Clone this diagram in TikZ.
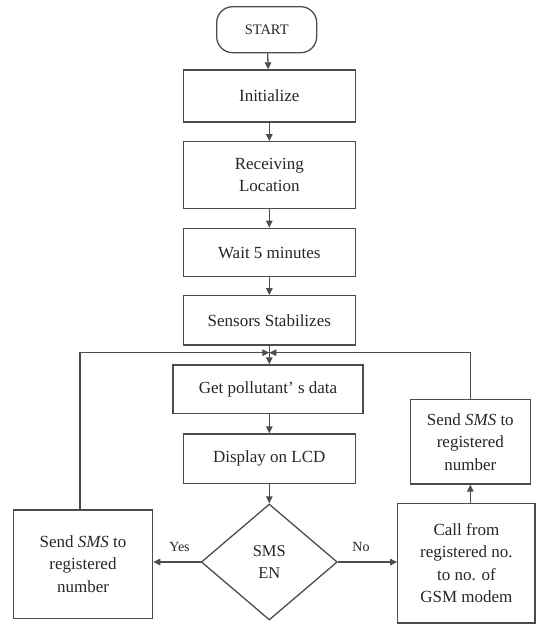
\documentclass[tikz,border=0pt]{standalone}
\usepackage{fontspec}
\setmainfont{Liberation Serif}
\usepackage{tikz}
\usetikzlibrary{positioning,arrows.meta,shapes.geometric}

\begin{document}
\begin{tikzpicture}[x=1pt, y=-1pt, line width=1.3pt, draw=black!70, text=black!85,
  >={Triangle[length=7pt,width=6.5pt]},
  box/.style={rectangle, draw, align=center, inner sep=0pt, font=\fontsize{17}{22.5}\selectfont},
  lbl/.style={font=\fontsize{14}{16}\selectfont}]

\useasboundingbox (0,0) rectangle (536,624);

% 
\node[box, rounded corners=16pt, minimum width=100pt, minimum height=46pt, font=\fontsize{14.5}{17}\selectfont] (start) at (266.7, 29.7) {START};
\node[box, minimum width=172pt, minimum height=52pt] (init) at (269.3, 96) {Initialize};
\node[box, minimum width=172pt, minimum height=66.6pt] (recv) at (269.3, 175) {Receiving\\Location};
\node[box, minimum width=172pt, minimum height=48.4pt] (wait) at (269.3, 252.5) {Wait 5 minutes};
\node[box, minimum width=172pt, minimum height=49.3pt] (sens) at (269.3, 320.4) {Sensors Stabilizes};
\node[box, minimum width=190pt, minimum height=48.5pt] (data) at (268, 389.2) {Get pollutant’ s data};
\node[box, minimum width=172pt, minimum height=49.3pt] (lcd) at (269.3, 458.7) {Display on LCD};
\node[box, diamond, minimum width=136pt, minimum height=116pt, font=\fontsize{16.5}{21.5}\selectfont] (smsen) at (269.3, 562) {SMS\\EN};

% 
\node[box, minimum width=139.4pt, minimum height=108.3pt] (smsyes) at (83, 564) {Send \textit{SMS} to\\registered\\number};
\node[box, minimum width=137.3pt, minimum height=119.7pt] (call) at (466.4, 563.2) {Call from\\registered no.\\to no. of\\GSM modem};
\node[box, minimum width=120pt, minimum height=84.7pt] (smsno) at (470.3, 441.7) {Send \textit{SMS} to\\registered\\number};

% 
\node[lbl] (yes) at (179.5, 546.7) {Yes};
\node[lbl] (no) at (361, 546.7) {No};
\coordinate (merge) at (269.3, 352.7);

% 
\draw[->] (start) -- (init);
\draw[->] (init) -- (recv);
\draw[->] (recv) -- (wait);
\draw[->] (wait) -- (sens);
\draw[->] (sens.south) -- (sens.south |- data.north);
\draw[->] (data.south -| lcd) -- (lcd.north);
\draw[->] (lcd) -- (smsen);
\draw[->] (smsen.west) -- (smsen.west -| smsyes.east);
\draw[->] (smsen.east) -- (smsen.east -| call.west);
\draw[->] (smsno.south |- call.north) -- (smsno.south);
\draw[->] (smsyes.north -| 80,0) |- (merge);
\draw[->] (smsno.north) |- (merge);

\end{tikzpicture}
\end{document}
